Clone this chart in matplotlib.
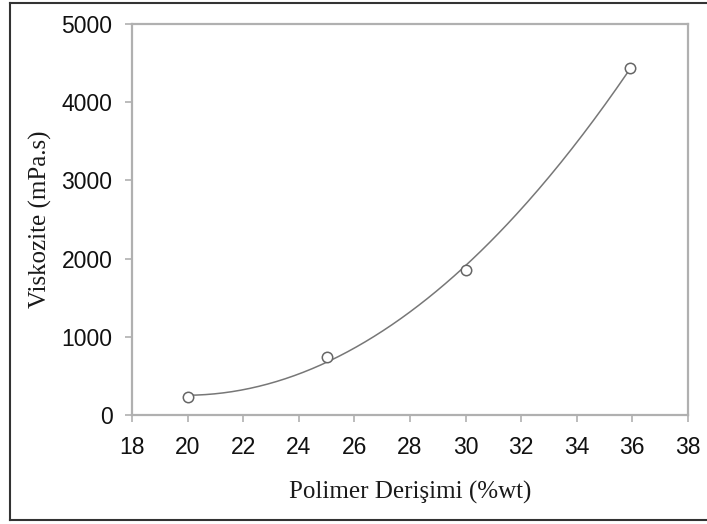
import numpy as np
import matplotlib
matplotlib.use("Agg")
import matplotlib.pyplot as plt
from matplotlib.lines import Line2D

# Data
concentration = [20.0, 25.0, 30.0, 35.9]
viscosity = [230, 740, 1850, 4435]
x_ticks = [18, 20, 22, 24, 26, 28, 30, 32, 34, 36, 38]
y_ticks = [0, 1000, 2000, 3000, 4000, 5000]

fig = plt.figure(figsize=(7.07, 5.24), dpi=100)
ax = fig.add_axes([0.1867, 0.208, 0.7863, 0.746])

# 2nd-order polynomial regression curve through the data
coef = np.polyfit(concentration, viscosity, 2)
xf = np.linspace(min(concentration), max(concentration), 200)
ax.plot(xf, np.polyval(coef, xf), color="#777777", lw=1.1, zorder=2)
ax.plot(concentration, viscosity, linestyle="none", marker="o", ms=7.5,
        mfc="white", mec="#666666", mew=1.1, zorder=3)

ax.set_xlim(18, 38)
ax.set_ylim(0, 5000)
ax.set_xticks(x_ticks)
ax.set_yticks(y_ticks)
for s in ax.spines.values():
    s.set_color("#b0b0b0")
    s.set_linewidth(1.6)
ax.tick_params(direction="out", length=5, width=1.2, color="#b0b0b0",
               labelsize=16.5, labelcolor="#111111")
ax.tick_params(axis="x", pad=10)
ax.tick_params(axis="y", pad=9)
for lab in ax.get_xticklabels() + ax.get_yticklabels():
    lab.set_fontfamily("Liberation Sans")

ax.set_xlabel("Polimer Derişimi (%wt)", fontfamily="Liberation Serif",
              fontsize=18, color="#1a1a1a", labelpad=16)
ax.set_ylabel("Viskozite (mPa.s)", fontfamily="Liberation Serif",
              fontsize=18, color="#1a1a1a", labelpad=7)

# figure frame (top, left, bottom)
W, H = 707, 524
kw = dict(color="#333333", lw=1.5, transform=fig.transFigure)
fig.add_artist(Line2D([10 / W, 1], [1 - 2.5 / H, 1 - 2.5 / H], **kw))
fig.add_artist(Line2D([10 / W, 10 / W], [1 - 2.5 / H, 1 - 520 / H], **kw))
fig.add_artist(Line2D([10 / W, 1], [1 - 520 / H, 1 - 520 / H], **kw))

fig.savefig("out.png", dpi=100, facecolor="white")
